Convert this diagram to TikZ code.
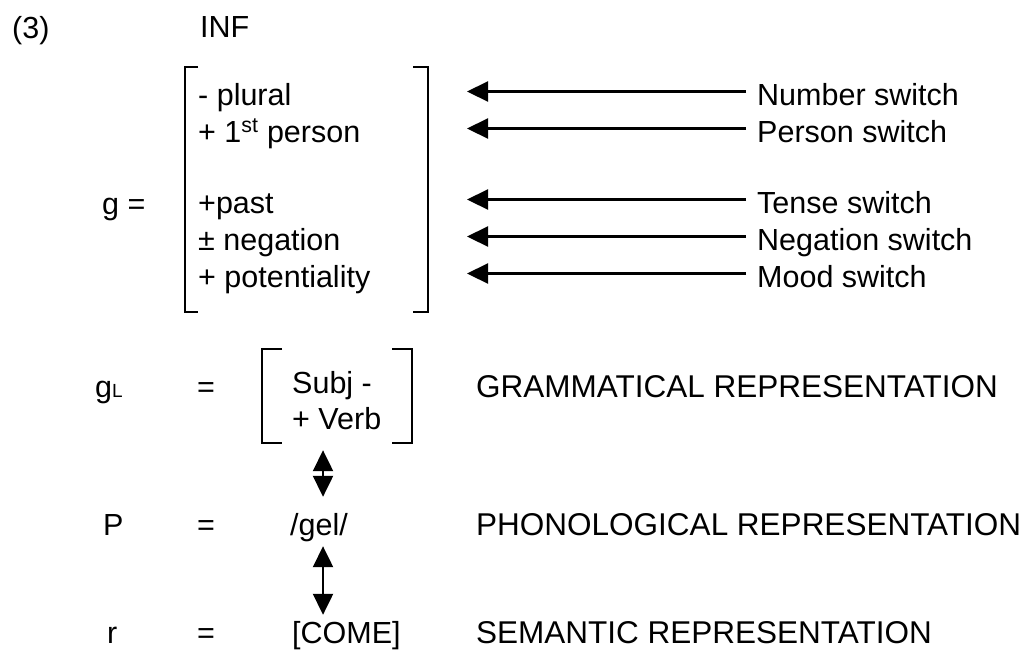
\documentclass[tikz,border=0pt]{standalone}
\usepackage{fontspec}
\setmainfont{Liberation Sans}
\usetikzlibrary{arrows.meta}
\begin{document}
\begin{tikzpicture}[x=1pt,y=-1pt,
  txt/.style={inner sep=0pt, anchor=base west, text height=23pt, text depth=8pt, font=\fontsize{30.5}{36}\selectfont},
  swlbl/.style={txt, inner xsep=11pt},
  replbl/.style={txt, font=\fontsize{31.5}{36}\selectfont},
  brk/.style={line width=2.2pt},
  swarrow/.style={line width=2.2pt, -{Triangle[length=21pt,width=20pt]}},
  updown/.style={line width=2.2pt, {Triangle[length=21pt,width=20pt]}-{Triangle[length=21pt,width=20pt]}}]
\useasboundingbox (0,0) rectangle (1026,649);
\node[txt] (exnum) at (12,38) {(3)};
\node[txt] (inf) at (200,37) {INF};
\node[txt] (g) at (102,214) {g =};
\draw[brk] (198,67) -- (185,67) -- (185,312) -- (198,312);
\draw[brk] (413,67) -- (428,67) -- (428,312) -- (413,312);
\node[txt] (plural) at (198,105) {- plural};
\node[txt] (person) at (198,142) {+ 1\textsuperscript{st} person};
\node[txt] (past) at (198,213) {+past};
\node[txt] (neg) at (198,250) {± negation};
\node[txt] (pot) at (198,287) {+ potentiality};
\coordinate (tips) at (467,0);
\node[swlbl] (numsw) at (746,105) {Number switch};
\node[swlbl] (persw) at (746,142) {Person switch};
\node[swlbl] (tensw) at (746,213) {Tense switch};
\node[swlbl] (negsw) at (746,250) {Negation switch};
\node[swlbl] (moodsw) at (746,287) {Mood switch};
\draw[swarrow] ([yshift=6pt]numsw.west) -- ([yshift=6pt]numsw.west -| tips);
\draw[swarrow] ([yshift=6pt]persw.west) -- ([yshift=6pt]persw.west -| tips);
\draw[swarrow] ([yshift=6pt]tensw.west) -- ([yshift=6pt]tensw.west -| tips);
\draw[swarrow] ([yshift=6pt]negsw.west) -- ([yshift=6pt]negsw.west -| tips);
\draw[swarrow] ([yshift=6pt]moodsw.west) -- ([yshift=6pt]moodsw.west -| tips);
\node[txt] (gl) at (95,397) {g{\fontsize{19}{20}\selectfont L}};
\node[txt] (gleq) at (197,397) {=};
\draw[brk] (282,349) -- (262,349) -- (262,443) -- (282,443);
\draw[brk] (392,349) -- (412,349) -- (412,443) -- (392,443);
\node[txt] (subj) at (292,393) {Subj -};
\node[txt] (verb) at (292,429) {+ Verb};
\node[replbl] (gram) at (476,397) {GRAMMATICAL REPRESENTATION};
\node[txt] (p) at (103,535) {P};
\node[txt] (peq) at (197,535) {=};
\node[txt] (gel) at (290,535) {/gel/};
\node[replbl] (phon) at (476,535) {PHONOLOGICAL REPRESENTATION};
\node[txt] (r) at (107,643) {r};
\node[txt] (req) at (197,643) {=};
\node[txt] (come) at (292,643) {[COME]};
\node[replbl] (sem) at (476,643) {SEMANTIC REPRESENTATION};
\draw[updown, shorten <=13pt, shorten >=15pt] ([xshift=4pt]gel.north |- verb.south) -- ([xshift=4pt]gel.north);
\draw[updown, shorten <=3pt, shorten >=5pt] ([xshift=4pt]gel.south) -- ([xshift=4pt]gel.south |- come.north);
\end{tikzpicture}
\end{document}
